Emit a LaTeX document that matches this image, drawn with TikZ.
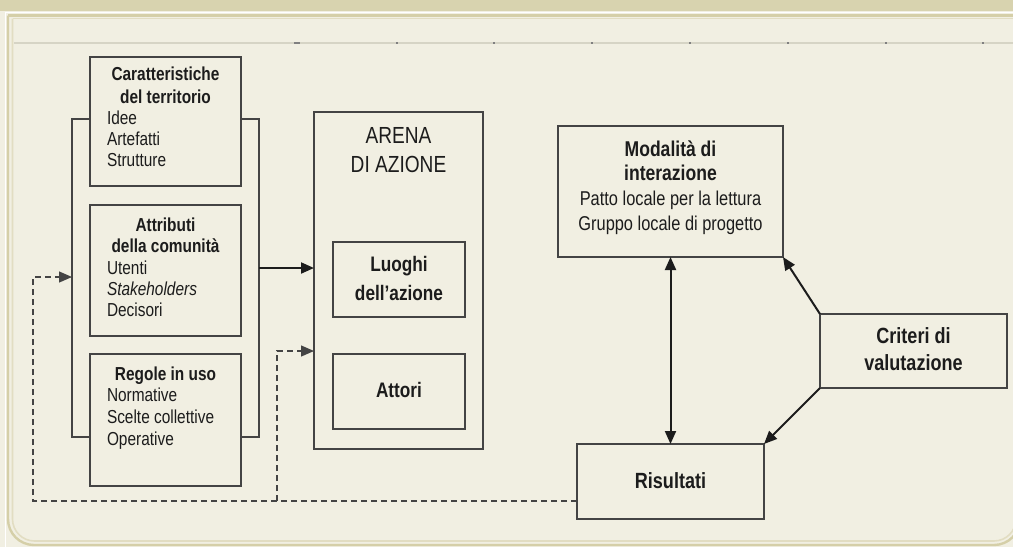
\documentclass[tikz,border=0pt]{standalone}
\usepackage{fontspec}
\setmainfont[FakeStretch=0.82]{Liberation Sans}
\usetikzlibrary{arrows.meta}
\definecolor{cream}{HTML}{F1EFE2}
\definecolor{tanband}{HTML}{D8D3AF}
\definecolor{tanline}{HTML}{D5CFA8}
\definecolor{tanlight}{HTML}{E2DDC2}
\definecolor{rulec}{HTML}{D6D4C5}
\definecolor{ink}{HTML}{1C1C1C}
\definecolor{boxline}{HTML}{444444}
\newcommand\fsLeft{\fontsize{18.8pt}{21pt}\selectfont}
\newcommand\fsArena{\fontsize{23.3pt}{29pt}\selectfont}
\newcommand\fsMid{\fontsize{21pt}{28pt}\selectfont}
\newcommand\fsModB{\fontsize{21.4pt}{25pt}\selectfont}
\newcommand\fsModR{\fontsize{20pt}{25pt}\selectfont}
\newcommand\fsRight{\fontsize{22pt}{27pt}\selectfont}
\begin{document}
\begin{tikzpicture}[x=1pt,y=-1pt,
  box/.style={draw=boxline,line width=1.5pt,rectangle,inner sep=0pt,outer sep=0pt},
  ln/.style={inner sep=0pt,outer sep=0pt,text=ink,anchor=base west},
  ttl/.style={inner sep=0pt,outer sep=0pt,text=ink,anchor=base},
  bracketline/.style={draw=boxline,line width=1.3pt},
  arr/.style={draw=ink,line width=2pt,-{Triangle[length=13pt,width=11pt]}},
  darr/.style={draw=ink,line width=2pt,{Triangle[length=13pt,width=11pt]}-{Triangle[length=13pt,width=11pt]}},
  dline/.style={draw=boxline,line width=1.3pt,dash pattern=on 6pt off 4pt},
  darrow/.style={dline,-{Triangle[length=13pt,width=11pt]}}
]
\useasboundingbox (0,0) rectangle (1013,547);
% background and frame
\fill[cream] (0,0) rectangle (1013,547);
\fill[tanband] (0,0) rectangle (1013,11);
\draw[white,line width=1.6pt] (5.5,547) -- (5.5,12.3) -- (1013,12.3);
\draw[tanline,line width=2.4pt] (8,15.5) -- (1013,15.5);
\draw[tanline,line width=2.4pt,rounded corners=26pt] (8,15.5) -- (8,545) -- (1020,545) -- (1020,15.5);
\draw[tanlight,line width=1.6pt] (12.5,18.5) -- (1013,18.5);
\draw[tanlight,line width=1.6pt,rounded corners=22pt] (12.5,18.5) -- (12.5,541) -- (1016,541) -- (1016,18.5);
\draw[rulec,line width=2pt] (14,42.5) -- (1013,42.5);
\foreach \tx in {298,397,494,592,690,788,886,983}
  \fill[gray] (\tx-0.6,41.5) rectangle (\tx+0.6,43.5);
\fill[gray] (294,41.5) rectangle (300,43.5);

% left boxes
\node[box,minimum width=151pt,minimum height=129pt] (carat) at (165.5,121.5) {};
\node[box,minimum width=151pt,minimum height=131pt] (attr) at (165.5,270.5) {};
\node[box,minimum width=151pt,minimum height=132pt] (regole) at (165.5,420) {};

\node[ttl,font=\fsLeft\bfseries] (caratT1) at (165.5,80.7) {Caratteristiche};
\node[ttl,font=\fsLeft\bfseries] (caratT2) at (165.5,103.3) {del territorio};
\node[ln,font=\fsLeft] (caratL1) at (107,124) {Idee};
\node[ln,font=\fsLeft] (caratL2) at (107,145.3) {Artefatti};
\node[ln,font=\fsLeft] (caratL3) at (107,166.7) {Strutture};

\node[ttl,font=\fsLeft\bfseries] (attrT1) at (165.5,231.7) {Attributi};
\node[ttl,font=\fsLeft\bfseries] (attrT2) at (165.5,252.7) {della comunità};
\node[ln,font=\fsLeft] (attrL1) at (107,274) {Utenti};
\node[ln,font=\fsLeft\itshape] (attrL2) at (107,295) {Stakeholders};
\node[ln,font=\fsLeft] (attrL3) at (107,316) {Decisori};

\node[ttl,font=\fsLeft\bfseries] (regT1) at (165.5,380.7) {Regole in uso};
\node[ln,font=\fsLeft] (regL1) at (107,401.7) {Normative};
\node[ln,font=\fsLeft] (regL2) at (107,423.3) {Scelte collettive};
\node[ln,font=\fsLeft] (regL3) at (107,445) {Operative};

% bracket
\coordinate (brTop) at (0,119);
\coordinate (brBot) at (0,437);
\coordinate (brLx) at (72,0);
\coordinate (brRx) at (259,0);
\draw[bracketline] (carat.west |- brTop) -- (brLx |- brTop) -- (brLx |- brBot) -- (regole.west |- brBot);
\draw[bracketline] (carat.east |- brTop) -- (brRx |- brTop) -- (brRx |- brBot) -- (regole.east |- brBot);

% arena
\node[box,minimum width=169pt,minimum height=337pt] (arena) at (398.5,280.5) {};
\node[ttl,font=\fsArena] (arenaT1) at (398.5,143.3) {ARENA};
\node[ttl,font=\fsArena] (arenaT2) at (398.5,172.7) {DI AZIONE};
\node[box,minimum width=132pt,minimum height=75pt] (luoghi) at (399,279.5) {};
\node[ttl,font=\fsMid\bfseries] (luoghiT1) at (399,271.7) {Luoghi};
\node[ttl,font=\fsMid\bfseries] (luoghiT2) at (399,300) {dell’azione};
\node[box,minimum width=132pt,minimum height=75pt] (attori) at (399,391.5) {};
\node[ttl,font=\fsMid\bfseries] (attoriT) at (399,397.3) {Attori};

% main arrow
\coordinate (mainY) at (0,268);
\draw[arr] (brRx |- mainY) -- (arena.west |- mainY);

% right side
\node[box,minimum width=225pt,minimum height=131pt] (modal) at (670.5,191.5) {};
\node[ttl,font=\fsModB\bfseries] (modalT1) at (670.5,156) {Modalità di};
\node[ttl,font=\fsModB\bfseries] (modalT2) at (670.5,180.7) {interazione};
\node[ttl,font=\fsModR] (modalL1) at (670.5,205.5) {Patto locale per la lettura};
\node[ttl,font=\fsModR] (modalL2) at (670.5,230) {Gruppo locale di progetto};

\node[box,minimum width=187pt,minimum height=74pt] (criteri) at (913.5,351) {};
\node[ttl,font=\fsRight\bfseries] (criteriT1) at (913.5,343.3) {Criteri di};
\node[ttl,font=\fsRight\bfseries] (criteriT2) at (913.5,370) {valutazione};

\node[box,minimum width=187pt,minimum height=75pt] (risultati) at (670.5,481.5) {};
\node[ttl,font=\fsRight\bfseries] (risultatiT) at (670.5,488.3) {Risultati};

\draw[darr] (modal.south) -- (risultati.north);
\draw[arr] (criteri.north west) -- (modal.south east);
\draw[arr] (criteri.south west) -- (risultati.north east);

% feedback dashed lines
\coordinate (fbY) at (0,501);
\coordinate (fbX1) at (33,0);
\coordinate (fbX2) at (277,0);
\coordinate (fbIn1) at (0,277);
\coordinate (fbIn2) at (0,351);
\draw[darrow] (risultati.west |- fbY) -- (fbX1 |- fbY) -- (fbX1 |- fbIn1) -- (brLx |- fbIn1);
\draw[darrow] (fbX2 |- fbY) -- (fbX2 |- fbIn2) -- (arena.west |- fbIn2);
\end{tikzpicture}
\end{document}
